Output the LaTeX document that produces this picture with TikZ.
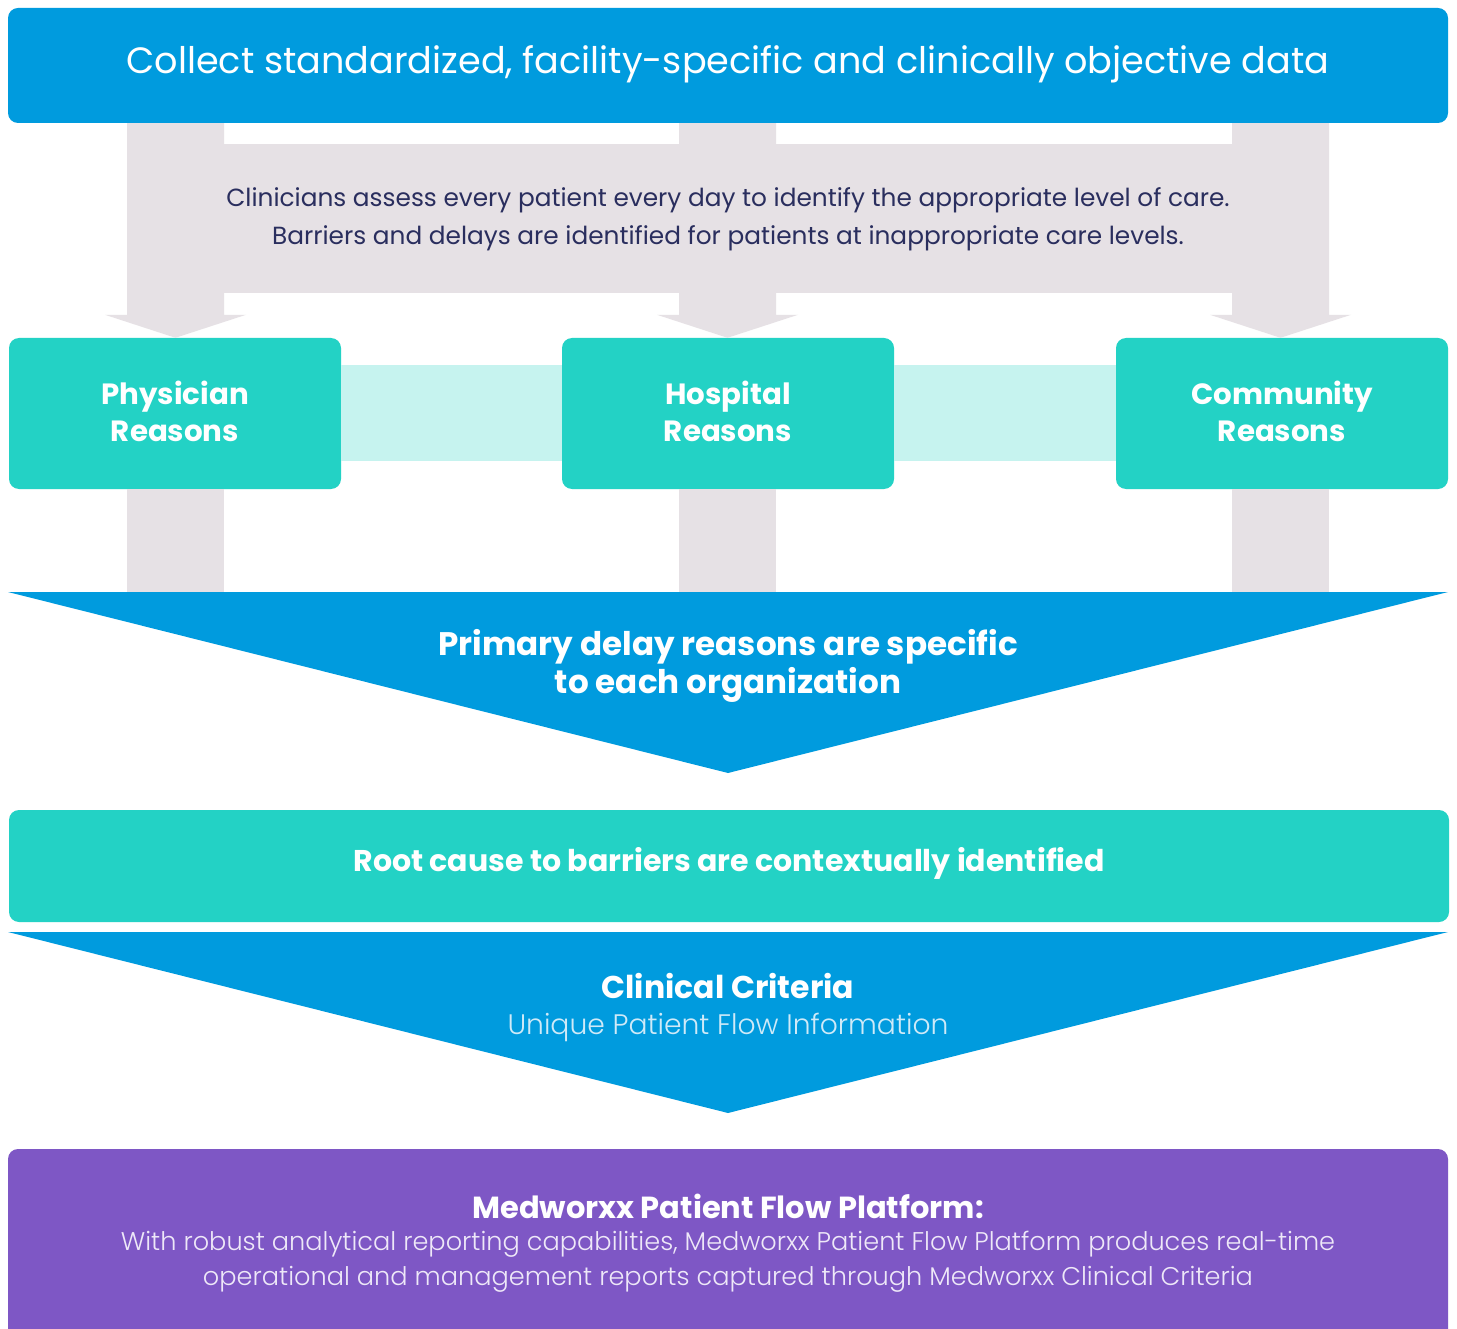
\documentclass[tikz,border=0pt]{standalone}
\usepackage{fontspec}
\setmainfont{Poppins}
\IfFontExistsTF{Poppins Light}
  {\newfontfamily\lightfont{Poppins Light}}
  {\newfontfamily\lightfont{Poppins}}
\usetikzlibrary{calc}

\definecolor{flowblue}{HTML}{009BDE}
\definecolor{flowteal}{HTML}{23D2C5}
\definecolor{paleteal}{HTML}{C6F3EF}
\definecolor{stemgrey}{HTML}{E6E1E5}
\definecolor{flowpurple}{HTML}{7E57C5}
\definecolor{navytext}{HTML}{2A2E5E}
\definecolor{softblue}{HTML}{CFEAF8}
\definecolor{softlilac}{HTML}{EEE8F8}

\tikzset{
  panel/.style={rounded corners=10pt, inner sep=0pt, align=center},
  reasonbox/.style={panel, fill=flowteal, minimum width=332pt, minimum height=151pt},
  headtext/.style={text=white, inner sep=0pt, align=center},
  reasonlabel/.style={headtext, font=\fontsize{29.3}{37}\selectfont\bfseries},
}

\begin{document}
\begin{tikzpicture}[x=1pt,y=-1pt]
\useasboundingbox (0,0) rectangle (1457,1329);
\fill[white] (0,0) rectangle (1457,1329);

% data collection banner
\node[panel, fill=flowblue, minimum width=1440pt, minimum height=115pt] (top) at (728,65.5) {};
\node[headtext, font=\fontsize{36.6}{40}\selectfont] (toptext) at (728,64)
  {Collect standardized, facility-specific and clinically objective data};

% reason categories
\node[reasonbox] (phys) at (175,413.5) {};
\node[reasonbox] (hosp) at (728,413.5) {};
\node[reasonbox] (comm) at (1282,413.5) {};
\node[reasonlabel] (physlbl) at (175,411) {Physician\\Reasons};
\node[reasonlabel] (hosplbl) at (728,411) {Hospital\\Reasons};
\node[reasonlabel] (commlbl) at (1282,411) {Community\\Reasons};

% stem centres (slightly left of the box centres)
\coordinate (physstem) at ($(phys.north)+(0.5,0)$);
\coordinate (hospstem) at ($(hosp.north)+(-0.5,0)$);
\coordinate (commstem) at ($(comm.north)+(-1.5,0)$);

% grey arrows from the banner down to each category
\foreach \b in {phys,hosp,comm}{
  \fill[stemgrey]
    ($(\b stem |- top.south)+(-48.5,0)$) -- ($(\b stem |- top.south)+(48.5,0)$)
    -- ($(\b stem)+(48.5,-23)$) -- ($(\b stem)+(70.5,-23)$)
    -- (\b stem)
    -- ($(\b stem)+(-70.5,-23)$) -- ($(\b stem)+(-48.5,-23)$) -- cycle;
}

% assessment band across the arrows
\node[fill=stemgrey, minimum width=1008pt, minimum height=149pt, inner sep=0pt] (band) at (728,218.5) {};
\node[inner sep=0pt, text=navytext, align=center, font=\fontsize{24.8}{38}\selectfont] (bandtext) at (728,219)
  {Clinicians assess every patient every day to identify the appropriate level of care.\\
   Barriers and delays are identified for patients at inappropriate care levels.};

% pale links between categories
\fill[paleteal] ($(phys.east)+(0,-48)$) rectangle ($(hosp.west)+(0,48)$);
\fill[paleteal] ($(hosp.east)+(0,-48)$) rectangle ($(comm.west)+(0,48)$);

% first funnel
\coordinate (funnelA) at (728,592);
\foreach \b in {phys,hosp,comm}{
  \fill[stemgrey] ($(\b stem |- \b.south)+(-48.5,0)$) rectangle ($(\b stem |- funnelA)+(48.5,0)$);
}
\fill[flowblue] (8,592) -- (1448,592) -- (728,773) -- cycle;
\node[headtext, font=\fontsize{32.6}{38}\selectfont\bfseries] (delay) at (728,666)
  {Primary delay reasons are specific\\to each organization};

% root cause bar
\node[panel, fill=flowteal, minimum width=1440pt, minimum height=112pt] (root) at (729,866) {};
\node[headtext, font=\fontsize{30}{37}\selectfont\bfseries] (roottext) at (729,863)
  {Root cause to barriers are contextually identified};

% second funnel
\fill[flowblue] (8,932) -- (1448,932) -- (728,1113) -- cycle;
\node[headtext, font=\fontsize{31.5}{37}\selectfont\bfseries] (crit) at (728,986) {Clinical Criteria};
\node[inner sep=0pt, text=softblue, font=\lightfont\fontsize{28.2}{30}\selectfont] (uniq) at (728,1027)
  {Unique Patient Flow Information};

% platform panel
\node[panel, fill=flowpurple, minimum width=1440pt, minimum height=210pt] (plat) at (728,1254) {};
\node[headtext, font=\fontsize{30.5}{37}\selectfont\bfseries] (platname) at (728,1206)
  {Medworxx Patient Flow Platform:};
\node[inner sep=0pt, align=center, text=softlilac, font=\lightfont\fontsize{25.6}{35}\selectfont] (platdesc) at (728,1262)
  {With robust analytical reporting capabilities, Medworxx Patient Flow Platform produces real-time\\
   operational and management reports captured through Medworxx Clinical Criteria};
\end{tikzpicture}
\end{document}
